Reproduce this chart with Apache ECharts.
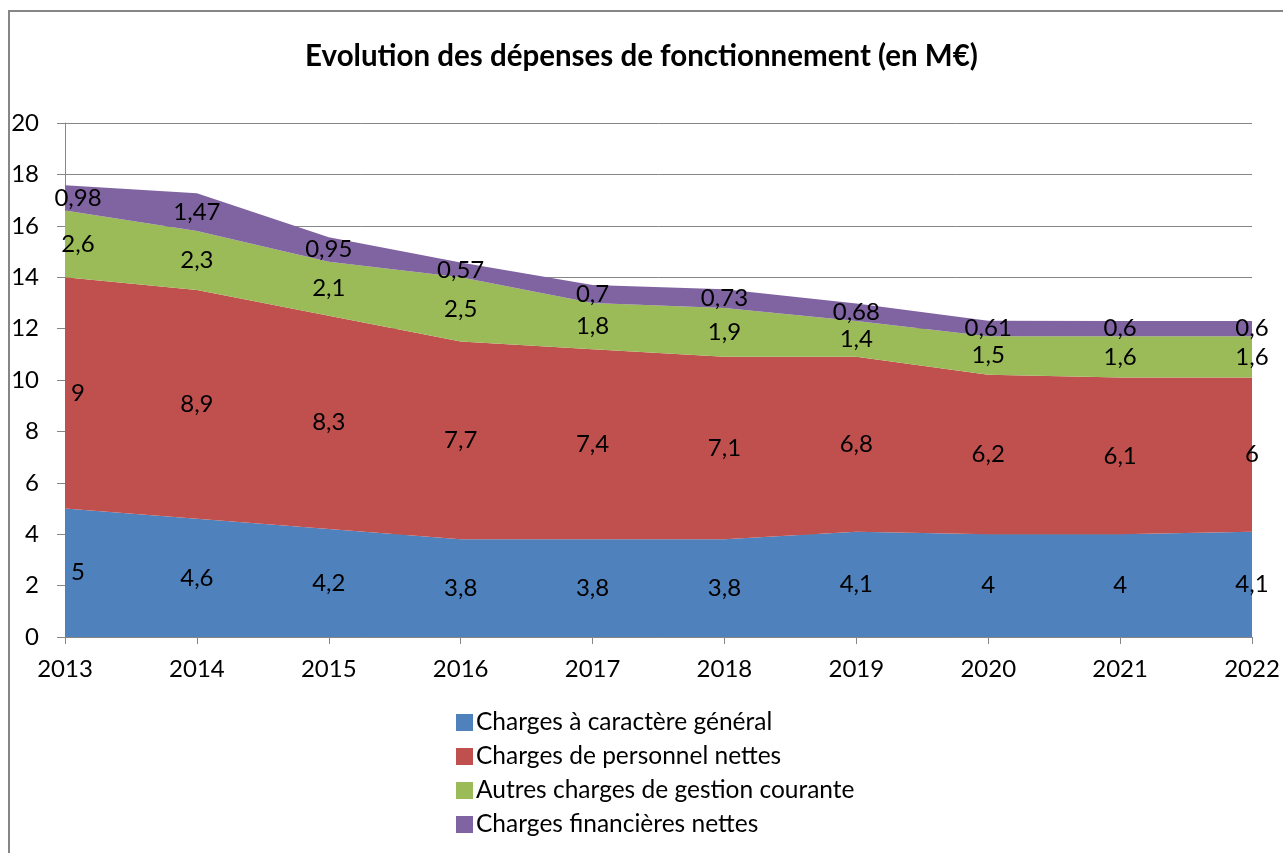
<!DOCTYPE html>
<html>
<head>
<meta charset="utf-8">
<script src="https://cdn.jsdelivr.net/npm/echarts@6/dist/echarts.min.js"></script>
<style>
  html, body { margin: 0; padding: 0; background: #fff; }
  #main { width: 1283px; height: 853px; }
</style>
</head>
<body>
<div id="main"></div>
<script>
// données (M€)
var years = ['2013', '2014', '2015', '2016', '2017', '2018', '2019', '2020', '2021', '2022'];
var chargesGenerales = [5, 4.6, 4.2, 3.8, 3.8, 3.8, 4.1, 4, 4, 4.1];
var chargesPersonnel = [9, 8.9, 8.3, 7.7, 7.4, 7.1, 6.8, 6.2, 6.1, 6];
var autresCharges = [2.6, 2.3, 2.1, 2.5, 1.8, 1.9, 1.4, 1.5, 1.6, 1.6];
var chargesFinancieres = [0.98, 1.47, 0.95, 0.57, 0.7, 0.73, 0.68, 0.61, 0.6, 0.6];
var yTicks = { min: 0, max: 20, interval: 2 };

var seriesDefs = [
    { name: 'Charges à caractère général', data: chargesGenerales, color: '#4F81BD' },
    { name: 'Charges de personnel nettes', data: chargesPersonnel, color: '#C0504D' },
    { name: 'Autres charges de gestion courante', data: autresCharges, color: '#9BBB59' },
    { name: 'Charges financières nettes', data: chargesFinancieres, color: '#8064A2' }
];

var FONT = 'Lato';
function fr(v) { return String(v).replace('.', ','); }

var series = [];
seriesDefs.forEach(function (s) {
    series.push({
        name: s.name,
        type: 'line',
        stack: 'total',
        symbol: 'none',
        lineStyle: { width: 0 },
        itemStyle: { color: s.color },
        areaStyle: { color: s.color, opacity: 1 },
        data: s.data
    });
});

// étiquettes au milieu de chaque bande (séries invisibles)
var base = years.map(function () { return 0; });
seriesDefs.forEach(function (s) {
    var mids = s.data.map(function (v, i) {
        var m = base[i] + v / 2;
        base[i] += v;
        return {
            value: m,
            raw: v,
            label: i === 0 ? { offset: [13, 0] } : {}
        };
    });
    series.push({
        name: s.name + '_lbl',
        type: 'line',
        symbol: 'circle',
        symbolSize: 1,
        itemStyle: { color: 'rgba(0,0,0,0)' },
        lineStyle: { opacity: 0 },
        silent: true,
        z: 10,
        label: {
            show: true,
            position: 'inside',
            color: '#000',
            fontFamily: FONT,
            fontSize: 24,
            formatter: function (p) { return fr(p.data.raw); }
        },
        data: mids
    });
});

var chart = echarts.init(document.getElementById('main'));
chart.setOption({
    backgroundColor: '#fff',
    animation: false,
    title: {
        text: 'Evolution des dépenses de fonctionnement (en M€)',
        left: 'center',
        top: 36,
        textStyle: { fontFamily: FONT, fontSize: 29.5, fontWeight: 'bold', color: '#000' }
    },
    graphic: [{
        type: 'rect',
        shape: { x: 9, y: 11, width: 1400, height: 1000 },
        style: { fill: 'none', stroke: '#868686', lineWidth: 2 },
        silent: true
    }],
    legend: {
        data: seriesDefs.map(function (s) { return s.name; }),
        orient: 'vertical',
        left: 451,
        top: 705,
        icon: 'rect',
        itemWidth: 17,
        itemHeight: 17,
        itemGap: 9,
        textStyle: { fontFamily: FONT, fontSize: 24.5, color: '#000', padding: [0, 0, 0, -2] }
    },
    grid: { left: 65, right: 31, top: 123, bottom: 216 },
    xAxis: {
        type: 'category',
        boundaryGap: false,
        data: years,
        axisLine: { lineStyle: { color: '#868686' } },
        axisTick: { show: true, length: 7, lineStyle: { color: '#868686' } },
        axisLabel: { color: '#000', fontFamily: FONT, fontSize: 24, margin: 20 }
    },
    yAxis: {
        type: 'value',
        min: yTicks.min,
        max: yTicks.max,
        interval: yTicks.interval,
        axisLine: { show: true, lineStyle: { color: '#868686' } },
        axisTick: { show: true, length: 8, lineStyle: { color: '#868686' } },
        axisLabel: { color: '#000', fontFamily: FONT, fontSize: 24, margin: 26 },
        splitLine: { lineStyle: { color: '#868686' } }
    },
    series: series
});
</script>
</body>
</html>
